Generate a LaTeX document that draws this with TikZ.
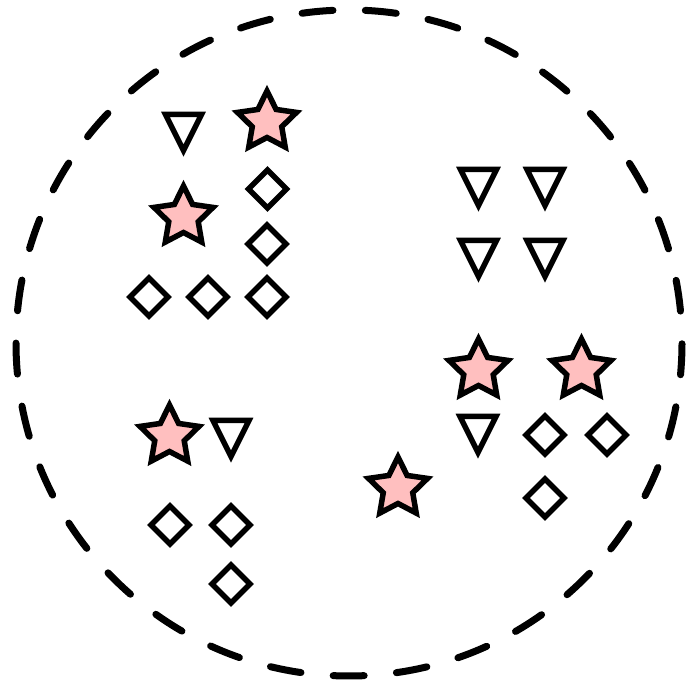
\documentclass[tikz,border=0pt]{standalone}
\begin{document}
\begin{tikzpicture}[x=1pt,y=1pt,
  markline/.style={draw=black, line width=5.5pt, line join=miter},
  starmark/.pic={\path[markline, fill=pink] (90:31) -- (126:15.5) -- (162:31) -- (198:15.5) -- (234:31) -- (270:15.5) -- (306:31) -- (342:15.5) -- (18:31) -- (54:15.5) -- cycle;},
  diamark/.pic={\path[markline, fill=white] (19,0) -- (0,19) -- (-19,0) -- (0,-19) -- cycle;},
  trimark/.pic={\path[markline, fill=white] (-18,18) -- (18,18) -- (0,-18) -- cycle;},
  boundary/.style={draw=black, line width=7pt, line cap=round, dash pattern=on 31pt off 32.4pt, dash phase=31.4pt}
]
\useasboundingbox (0,0) rectangle (687,684);
\fill[white] (0,0) rectangle (687,684);
\coordinate (c) at (349,341);
\draw[boundary] (c) circle[radius=333];
% stars
\pic (s1) at (267,562) {starmark};
\pic (s2) at (183.5,467) {starmark};
\pic (s3) at (478.5,314) {starmark};
\pic (s4) at (581.5,314) {starmark};
\pic (s5) at (169.5,248) {starmark};
\pic (s6) at (398,196) {starmark};
% triangles
\pic (t1) at (183.5,551.5) {trimark};
\pic (t2) at (478.5,496.5) {trimark};
\pic (t3) at (545,496.5) {trimark};
\pic (t4) at (478.5,425.5) {trimark};
\pic (t5) at (545,425.5) {trimark};
\pic (t6) at (478,249.5) {trimark};
\pic (t7) at (231,245.5) {trimark};
% diamonds
\pic (d1) at (267.5,495) {diamark};
\pic (d2) at (267,440) {diamark};
\pic (d3) at (149,387) {diamark};
\pic (d4) at (208,387) {diamark};
\pic (d5) at (267,387) {diamark};
\pic (d6) at (545,249) {diamark};
\pic (d7) at (607,249) {diamark};
\pic (d8) at (545,186) {diamark};
\pic (d9) at (170,159) {diamark};
\pic (d10) at (231,159) {diamark};
\pic (d11) at (231,100) {diamark};
\end{tikzpicture}
\end{document}
